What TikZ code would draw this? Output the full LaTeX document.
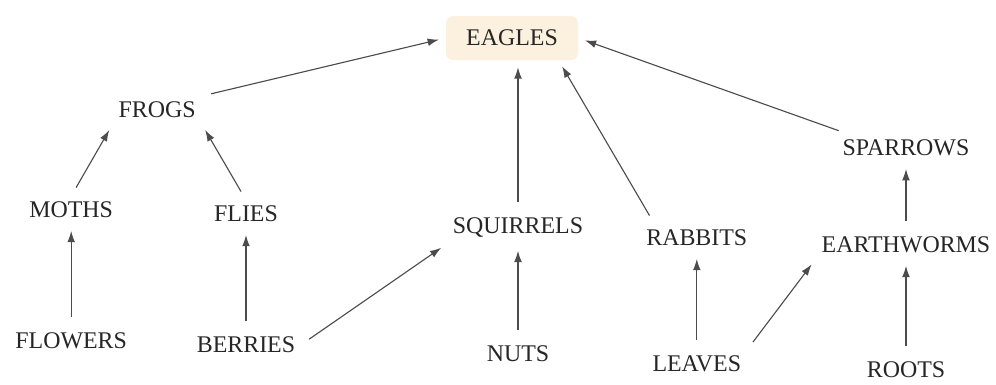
\documentclass[tikz,border=0pt]{standalone}
\usepackage{fontspec}
\usepackage{xcolor}
\usepackage{tikz}
\usetikzlibrary{arrows.meta}
\setmainfont{Liberation Serif}
\definecolor{cream}{rgb}{0.99, 0.94, 0.87}
\definecolor{fleche}{rgb}{0.30, 0.30, 0.30}

\begin{document}
\begin{tikzpicture}[
    espece/.style={font=\fontsize{17}{20}\selectfont, text=black!85, inner sep=4pt},
    lien/.style={-{Latex[length=8pt,width=5.5pt]}, draw=fleche, line width=0.8pt, shorten <=7pt, shorten >=5pt}
  ]
            % Cadre
            \useasboundingbox (0,0) rectangle (24.9,9.6);

            % Le sommet
            \node[espece, fill=cream, rounded corners=5pt, minimum width=3.3cm, minimum height=1.1cm] (eagles) at (12.8,8.65) {EAGLES};

            % Les especes
            \node[espece] (frogs) at (3.93,6.85) {FROGS};
            \node[espece] (moths) at (1.78,4.35) {MOTHS};
            \node[espece] (flies) at (6.15,4.25) {FLIES};
            \node[espece] (flowers) at (1.78,1.08) {FLOWERS};
            \node[espece] (berries) at (6.15,0.98) {BERRIES};
            \node[espece] (squirrels) at (12.95,3.9) {SQUIRRELS};
            \node[espece] (nuts) at (12.95,0.75) {NUTS};
            \node[espece] (rabbits) at (17.42,3.65) {RABBITS};
            \node[espece] (leaves) at (17.42,0.5) {LEAVES};
            \node[espece] (sparrows) at (22.65,5.9) {SPARROWS};
            \node[espece] (earthworms) at (22.65,3.48) {EARTHWORMS};
            \node[espece] (roots) at (22.65,0.35) {ROOTS};

            % Les fleches
            \draw[lien] (frogs.north east) -- (eagles.west);
            \draw[lien] (moths.north) -- (frogs.south west);
            \draw[lien] (flies.north) -- (frogs.south east);
            \draw[lien] (flowers) -- (moths);
            \draw[lien] (berries) -- (flies);
            \draw[lien] (berries.east) -- (squirrels.south west);
            \draw[lien] (nuts) -- (squirrels);
            \draw[lien] (squirrels) -- (squirrels |- eagles.south);
            \draw[lien] ([xshift=10pt]rabbits.north west) -- ([xshift=-14pt]eagles.south east);
            \draw[lien] (leaves) -- (rabbits);
            \draw[lien] (leaves.north east) -- (earthworms.south west);
            \draw[lien] (roots) -- (earthworms);
            \draw[lien] (earthworms) -- (sparrows);
            \draw[lien] ([xshift=8pt]sparrows.north west) -- (eagles.east);
\end{tikzpicture}
\end{document}
